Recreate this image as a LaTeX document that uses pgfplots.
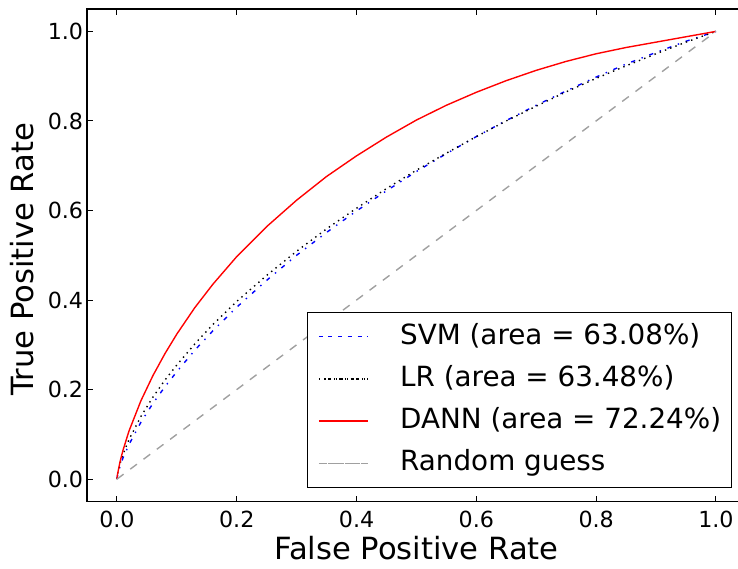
\documentclass[border=0pt]{standalone}
\usepackage{fontspec}
\setmainfont{DejaVu Sans}
\usepackage{pgfplots}
\pgfplotsset{compat=1.18}
\usetikzlibrary{calc}

\pgfplotstableread{
x y
0 0
0.001 0.011
0.005 0.038
0.01 0.064
0.02 0.107
0.04 0.175
0.06 0.231
0.08 0.280
0.10 0.324
0.13 0.383
0.16 0.435
0.20 0.497
0.25 0.564
0.30 0.623
0.35 0.676
0.40 0.722
0.45 0.764
0.50 0.802
0.55 0.835
0.60 0.864
0.65 0.890
0.70 0.913
0.75 0.933
0.80 0.950
0.85 0.964
0.90 0.976
0.95 0.988
1 1
}\dann

\pgfplotstableread{
x y
0 0
0.001 0.011
0.005 0.034
0.01 0.055
0.02 0.088
0.04 0.140
0.06 0.183
0.08 0.221
0.10 0.255
0.13 0.302
0.16 0.345
0.20 0.397
0.25 0.455
0.30 0.509
0.35 0.559
0.40 0.605
0.45 0.649
0.50 0.690
0.55 0.728
0.60 0.765
0.65 0.800
0.70 0.833
0.75 0.865
0.80 0.895
0.85 0.923
0.90 0.950
0.95 0.976
1 1
}\lr

\pgfplotstableread{
x y
0 0
0.001 0.0085
0.005 0.028
0.01 0.047
0.02 0.077
0.04 0.127
0.06 0.169
0.08 0.206
0.10 0.240
0.13 0.288
0.16 0.331
0.20 0.384
0.25 0.444
0.30 0.500
0.35 0.551
0.40 0.599
0.45 0.644
0.50 0.687
0.55 0.727
0.60 0.765
0.65 0.801
0.70 0.835
0.75 0.867
0.80 0.898
0.85 0.927
0.90 0.953
0.95 0.978
1 1
}\svm

\begin{document}
\begin{tikzpicture}
\begin{axis}[name=ax,
  scale only axis, width=658.9bp, height=492.5bp,
  xmin=-0.05, xmax=1.05, ymin=-0.05, ymax=1.05,
  xtick={0,0.2,0.4,0.6,0.8,1}, ytick={0,0.2,0.4,0.6,0.8,1},
  tick pos=both, tick align=inside,
  major tick length=5.6bp,
  every tick/.style={black, line width=1bp},
  axis line style={black, line width=1.2bp},
  ticklabel style={font=\fontsize{22.2bp}{26bp}\selectfont, inner sep=0pt,
    /pgf/number format/fixed, /pgf/number format/fixed zerofill,
    /pgf/number format/precision=1, /pgf/number format/assume math mode=true},
  xticklabel style={yshift=-9bp},
  yticklabel style={xshift=-3.7bp},
  xlabel={False Positive Rate},
  ylabel={True Positive Rate},
  label style={font=\fontsize{30.6bp}{36bp}\selectfont, inner sep=0pt},
  xlabel style={at={(axis description cs:0.5,0)}, anchor=north, yshift=-35bp},
  ylabel style={at={(axis description cs:-0.0797,0.492)}, anchor=south},
  legend cell align=left,
  legend style={at={(axis description cs:1,0)}, anchor=south east,
    xshift=-13.9bp, yshift=13.4bp, draw=black, line width=1bp,
    inner xsep=10.3bp, inner ysep=10.85bp, row sep=15.2bp,
    font=\fontsize{27.8bp}{33bp}\selectfont,
    nodes={inner sep=0pt, text height=21bp, text depth=6bp},
    /tikz/every odd column/.append style={column sep=31.3bp}},
  legend image code/.code={\path (0bp,0bp) -- (49.4bp,0bp);
    \draw[#1] (9.4bp,0bp) -- (49.4bp,0bp);},
]
\addplot[blue, line width=1.39bp, dash pattern=on 4.2bp off 6.9bp on 1.4bp off 6.9bp] table[x=x,y=y] {\svm};
\addlegendentry{SVM (area = 63.08\%)}
\addplot[black, line width=1.39bp, dash pattern=on 1.4bp off 4.2bp] table[x=x,y=y] {\lr};
\addlegendentry{LR (area = 63.48\%)}
\addplot[red, line width=1.39bp] table[x=x,y=y] {\dann};
\addlegendentry{DANN (area = 72.24\%)}
\addplot[color={rgb,255:red,160;green,160;blue,160}, line width=1.39bp, dash pattern=on 8.3bp off 8.3bp] coordinates {(0,0) (1,1)};
\addlegendentry{Random guess}
\end{axis}
\pgfresetboundingbox
\useasboundingbox ($(ax.south west)+(-87bp,-67.3bp)$) rectangle ($(ax.south west)+(651bp,501.5bp)$);
\end{tikzpicture}
\end{document}
